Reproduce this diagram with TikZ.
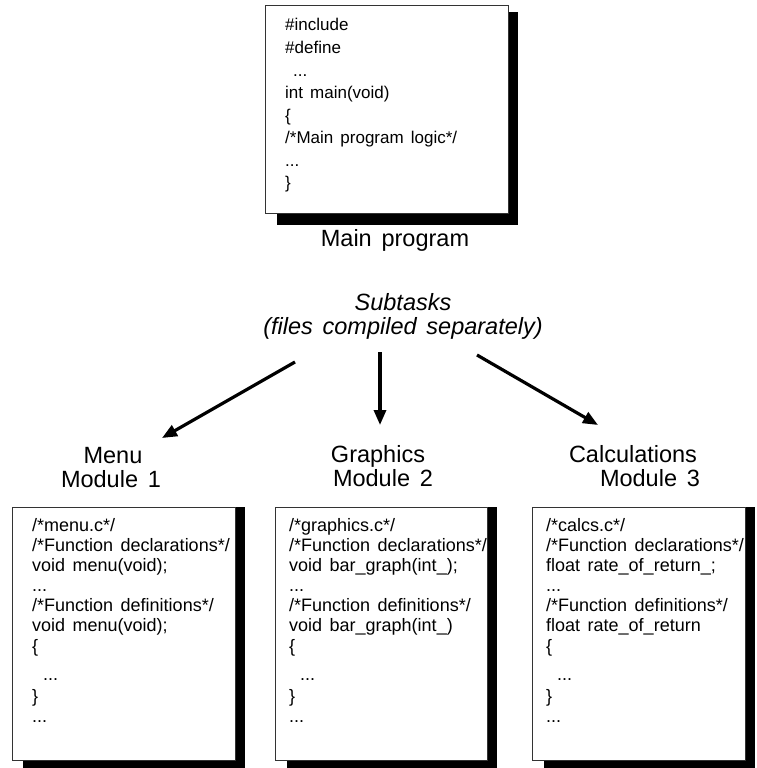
\documentclass[tikz,border=0pt]{standalone}
\usepackage{fontspec}
\setmainfont{Liberation Sans}[WordSpace=1.5]
\usetikzlibrary{arrows.meta}

% three dots as set in the listings
\newcommand\codedots{...}

\tikzset{
  codebox/.style={draw=black!80, line width=0.8pt, fill=white, inner sep=0pt,
                  anchor=north west},
  shadowfill/.style={fill=black, draw=none},
  code/.style={anchor=base west, inner sep=0pt, font=\fontsize{18}{18}\selectfont},
  maincode/.style={code, font=\fontsize{17}{17}\selectfont},
  caption/.style={anchor=base, inner sep=0pt, font=\fontsize{23.5}{23.5}\selectfont},
  note/.style={caption, font=\fontsize{23.5}{23.5}\selectfont\itshape},
  flow/.style={line width=3.2pt, -{Triangle[length=15pt,width=12pt]}}
}

\begin{document}
\begin{tikzpicture}[x=1pt,y=-1pt]
\useasboundingbox (0,0) rectangle (757,768);

% drop shadows behind the listings
\fill[shadowfill] (277,12) rectangle (518,225);
\fill[shadowfill] (23,507) rectangle (245,768);
\fill[shadowfill] (287,507) rectangle (497,768);
\fill[shadowfill] (544,507) rectangle (755,768);

% listing frames
\node[codebox, minimum width=243pt, minimum height=208pt] (mainbox) at (265,5) {};
\node[codebox, minimum width=223pt, minimum height=253pt] (menubox) at (12,507) {};
\node[codebox, minimum width=212pt, minimum height=253pt] (graphbox) at (275,507) {};
\node[codebox, minimum width=213pt, minimum height=253pt] (calcbox) at (532,507) {};

% main program listing
\foreach \t [count=\i from 0] in {{\#include},{\#define},{\kern8pt\codedots},{int main(void)},
    {\{},{/*Main program logic*/},{\codedots},{\}}}
  \node[maincode] (main-\i) at (285,{31+22.5*\i}) {\t};

% module listings: baselines shared by the three files
\def\linebase{{531,551,571,591,611,631,652,680,702,722}}
\foreach \t [count=\i from 0] in {{/*menu.c*/},{/*Function declarations*/},{void menu(void);},
    {\codedots},{/*Function definitions*/},{void menu(void);},{\{},{\kern11pt\codedots},{\}},{\codedots}}{
  \pgfmathsetmacro\yy{\linebase[\i]}
  \node[code] (menu-\i) at (32,\yy) {\t};
}
\foreach \t [count=\i from 0] in {{/*graphics.c*/},{/*Function declarations*/},{void bar\_graph(int\_);},
    {\codedots},{/*Function definitions*/},{void bar\_graph(int\_)},{\{},{\kern11pt\codedots},{\}},{\codedots}}{
  \pgfmathsetmacro\yy{\linebase[\i]}
  \node[code] (graph-\i) at (289,\yy) {\t};
}
\foreach \t [count=\i from 0] in {{/*calcs.c*/},{/*Function declarations*/},{float rate\_of\_return\_;},
    {\codedots},{/*Function definitions*/},{float rate\_of\_return},{\{},{\kern11pt\codedots},{\}},{\codedots}}{
  \pgfmathsetmacro\yy{\linebase[\i]}
  \node[code] (calc-\i) at (546,\yy) {\t};
}

% captions
\node[caption] (maincap) at (395,246) {Main program};
\node[note] (subtasks) at (403,310) {Subtasks};
\node[note] (subnote) at (403,334) {(files compiled separately)};
\node[caption] (menuname) at (113,463) {Menu};
\node[caption] (menunum) at (111,487) {Module 1};
\node[caption] (graphname) at (378,462) {Graphics};
\node[caption] (graphnum) at (383,486) {Module 2};
\node[caption] (calcname) at (633,462) {Calculations};
\node[caption] (calcnum) at (650,486) {Module 3};

% arrows from the subtasks to the modules
\coordinate (menufrom) at (295,362);
\coordinate (menuto) at (162,438);
\coordinate (graphfrom) at (380,352);
\coordinate (graphto) at (380,425);
\coordinate (calcfrom) at (477,355);
\coordinate (calcto) at (598,425);
\draw[flow] (menufrom) -- (menuto);
\draw[flow] (graphfrom) -- (graphto);
\draw[flow] (calcfrom) -- (calcto);
\end{tikzpicture}
\end{document}
